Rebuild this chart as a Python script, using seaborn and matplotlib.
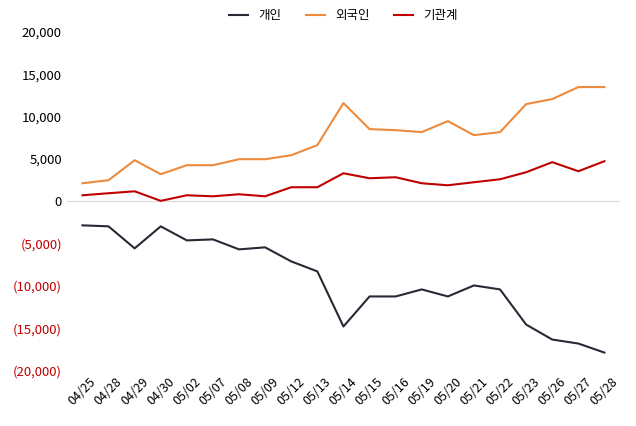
import matplotlib
matplotlib.use("Agg")
import matplotlib.pyplot as plt
import seaborn as sns
import pandas as pd

plt.rcParams['font.family'] = 'Noto Sans CJK KR'

dates = ['04/25', '04/28', '04/29', '04/30', '05/02', '05/07', '05/08', '05/09', '05/12', '05/13', '05/14',
         '05/15', '05/16', '05/19', '05/20', '05/21', '05/22', '05/23', '05/26', '05/27', '05/28']
individual = [-2840, -2960, -5560, -2960, -4620, -4500, -5680, -5440, -7100, -8280, -14790,
              -11240, -11240, -10410, -11240, -9940, -10410, -14560, -16330, -16800, -17870]
foreign = [2130, 2490, 4850, 3200, 4260, 4260, 4970, 4970, 5440, 6630, 11600,
           8520, 8400, 8170, 9470, 7810, 8170, 11480, 12070, 13490, 13490]
institution = [710, 950, 1180, 50, 710, 590, 830, 590, 1660, 1660, 3310,
               2720, 2840, 2130, 1890, 2250, 2600, 3430, 4620, 3550, 4730]

df = pd.DataFrame({'date': dates, '개인': individual, '외국인': foreign, '기관계': institution})
long = df.melt(id_vars='date', var_name='investor', value_name='value')

fig, ax = plt.subplots(figsize=(6.36, 4.26), dpi=100)
palette = {'개인': '#262a35', '외국인': '#ee8a3c', '기관계': '#c00000'}
sns.lineplot(data=long, x='date', y='value', hue='investor', palette=palette, linewidth=1.5, ax=ax, sort=False)

ax.set_ylim(-20000, 20000)
ax.set_yticks(range(-20000, 20001, 5000))
ax.set_yticklabels([f'({abs(v):,})' if v < 0 else f'{v:,}' for v in range(-20000, 20001, 5000)], fontsize=9.5)
for lbl in ax.get_yticklabels():
    if lbl.get_text().startswith('('):
        lbl.set_color('#c00000')
ax.axhline(0, color='#d9d9d9', linewidth=0.8, zorder=0)
ax.set_xlim(-0.6, len(dates) - 0.4)
ax.tick_params(axis='x', rotation=45, labelsize=9, length=0)
ax.tick_params(axis='y', length=0)
for s in ax.spines.values():
    s.set_visible(False)
ax.set_xlabel('')
ax.set_ylabel('')
ax.legend(loc='upper center', bbox_to_anchor=(0.5, 1.1), ncol=3, frameon=False, fontsize=9, handlelength=1.5)

plt.subplots_adjust(left=0.105, right=0.975, top=0.925, bottom=0.13)
fig.savefig('out.png', dpi=100)
